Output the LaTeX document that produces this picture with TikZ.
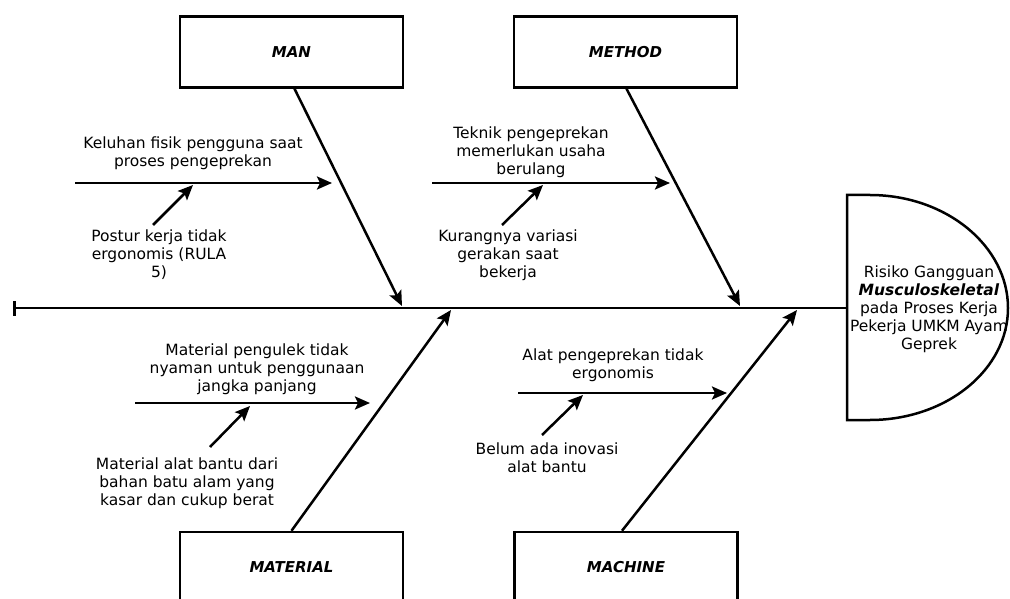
\documentclass[tikz,border=0pt]{standalone}
\usepackage{fontspec}
\setmainfont{DejaVu Sans}
\usetikzlibrary{arrows.meta}
\begin{document}
\begin{tikzpicture}[x=1pt,y=-1pt,line width=2.5pt,
  arr/.style={-{Stealth[length=15pt,width=13pt,inset=3pt]},line width=2.5pt},
  catbox/.style={draw,line width=2.5pt,minimum width=223pt,minimum height=71pt,inner sep=0pt,font=\bfseries\itshape\fontsize{15}{17}\selectfont},
  lbl/.style={align=center,inner sep=0pt,font=\fontsize{15.5}{18}\selectfont}]
\useasboundingbox (0,0) rectangle (1010,599);
\begin{scope}
\clip (0,0) rectangle (1010,599);
% category boxes
\node[catbox] (man) at (291.5,52) {MAN};
\node[catbox] (method) at (625.5,52) {METHOD};
\node[catbox] (material) at (291.5,567.5) {MATERIAL};
\node[catbox] (machine) at (626,567.5) {MACHINE};
% head
\draw (847,195) -- (870,195) .. controls (946,195) and (1008,246) .. (1008,308)
  .. controls (1008,370) and (946,420) .. (870,420) -- (847,420) -- cycle;
\coordinate (headw) at (847,308);
\node[lbl] (head) at (929,309) {Risiko Gangguan\\\textbf{\textit{Musculoskeletal}}\\pada Proses Kerja\\Pekerja UMKM Ayam\\Geprek};
% spine
\coordinate (tail) at (13,308);
\draw[{Bar[width=15pt,line width=2.5pt]}-] (tail) -- (headw);
% main bones
\coordinate (manj) at (402,306);
\coordinate (methodj) at (740,306);
\coordinate (materialj) at (451,310);
\coordinate (machinej) at (797,310);
\draw[arr] ([xshift=3pt]man.south) -- (manj);
\draw[arr] ([xshift=1pt]method.south) -- (methodj);
\draw[arr] (material.north) -- (materialj);
\draw[arr] ([xshift=-4pt]machine.north) -- (machinej);
% MAN causes
\coordinate (m1s) at (75,183); \coordinate (m1e) at (332,183);
\draw[arr] (m1s) -- (m1e);
\node[lbl] (m1) at (193,153) {Keluhan fisik pengguna saat\\proses pengeprekan};
\coordinate (m2s) at (153,225); \coordinate (m2e) at (193,185);
\draw[arr] (m2s) -- (m2e);
\node[lbl] (m2) at (159,255) {Postur kerja tidak\\ergonomis (RULA\\5)};
% METHOD causes
\coordinate (t1s) at (432,183); \coordinate (t1e) at (670,183);
\draw[arr] (t1s) -- (t1e);
\node[lbl] (t1) at (531,152) {Teknik pengeprekan\\memerlukan usaha\\berulang};
\coordinate (t2s) at (502,225); \coordinate (t2e) at (543,185);
\draw[arr] (t2s) -- (t2e);
\node[lbl] (t2) at (508,255) {Kurangnya variasi\\gerakan saat\\bekerja};
% MATERIAL causes
\coordinate (a1s) at (135,403); \coordinate (a1e) at (370,403);
\draw[arr] (a1s) -- (a1e);
\node[lbl] (a1) at (257,369) {Material pengulek tidak\\nyaman untuk penggunaan\\jangka panjang};
\coordinate (a2s) at (210,447); \coordinate (a2e) at (250,406);
\draw[arr] (a2s) -- (a2e);
\node[lbl] (a2) at (187,483) {Material alat bantu dari\\bahan batu alam yang\\kasar dan cukup berat};
% MACHINE causes
\coordinate (c1s) at (518,393); \coordinate (c1e) at (727,393);
\draw[arr] (c1s) -- (c1e);
\node[lbl] (c1) at (613,365) {Alat pengeprekan tidak\\ergonomis};
\coordinate (c2s) at (542,435); \coordinate (c2e) at (583,395);
\draw[arr] (c2s) -- (c2e);
\node[lbl] (c2) at (547,458) {Belum ada inovasi\\alat bantu};
\end{scope}
\end{tikzpicture}
\end{document}
